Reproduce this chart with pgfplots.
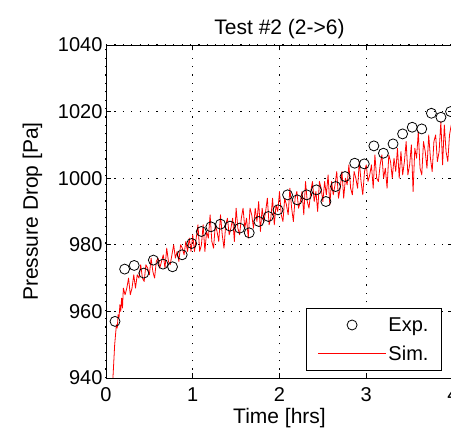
\documentclass[border=0pt]{standalone}
\usepackage{pgfplots}
\pgfplotsset{compat=1.18}
\usepackage{fontspec}
\setmainfont{Liberation Sans}
\begin{document}
\begin{tikzpicture}
\begin{axis}[
  scale only axis,
  width=347bp, height=333bp,
  xmin=0, xmax=4, ymin=940, ymax=1040,
  xtick={0,1,2,3,4}, ytick={940,960,980,1000,1020,1040},
  tick align=inside,
  major tick length=5bp,
  tick style={black, line width=0.6pt},
  axis line style={line width=0.8pt},
  grid=major,
  major grid style={black, line width=1bp, dash pattern=on 1.2bp off 7.2bp},
  /pgf/number format/assume math mode=true,
  /pgf/number format/1000 sep={},
  ticklabel style={font=\fontsize{20bp}{22bp}\selectfont},
  xticklabel style={yshift=-6bp},
  xlabel style={font=\fontsize{21bp}{24bp}\selectfont, yshift=0bp},
  ylabel style={font=\fontsize{21bp}{24bp}\selectfont, yshift=9bp},
  title style={font=\fontsize{21bp}{24bp}\selectfont, yshift=-3bp},
  title={Test \#2 (2->6)},
  xlabel={Time [hrs]},
  ylabel={Pressure Drop [Pa]},
  legend style={at={(0.968,0.021)}, anchor=south east, draw=black, line width=0.8pt,
    font=\fontsize{20bp}{22bp}\selectfont, row sep=9bp, inner xsep=11bp, inner ysep=7bp,
    nodes={inner sep=2bp}, /tikz/every even column/.append style={column sep=5bp}},
  legend cell align=left,
]
\addplot[only marks, mark=o, mark size=5bp, mark options={black, line width=0.8pt},
  legend image code/.code={\draw[black, line width=0.8pt] (34bp,0bp) circle (5bp);\path[draw=none] (0bp,0bp) -- (68bp,0bp);}]
coordinates {
(0.104,957) (0.215,972.7) (0.325,973.8) (0.436,971.5) (0.546,975.4) (0.657,974.2)
(0.767,973.4) (0.878,977) (0.988,980.4) (1.099,984) (1.209,985.4) (1.320,986.2)
(1.430,985.6) (1.541,985) (1.651,983.6) (1.762,987) (1.872,988.5) (1.983,990.5)
(2.093,995) (2.204,993.5) (2.314,995) (2.425,996.5) (2.535,993) (2.646,997.5)
(2.756,1000.5) (2.867,1004.5) (2.977,1004.3) (3.088,1009.7) (3.198,1007.5) (3.309,1010.3)
(3.419,1013.3) (3.530,1015.3) (3.640,1014.8) (3.751,1019.5) (3.861,1018.3) (3.972,1020)
};
\addlegendentry{Exp.}
\addplot[red, line width=0.8pt, mark=none, line join=round,
  legend image code/.code={\draw[red, line width=0.8pt] (0bp,0bp) -- (68bp,0bp);}]
coordinates {
(0.08,940) (0.09,945) (0.10,950) (0.11,953) (0.12,956) (0.13,955) (0.14,959) (0.15,958)
(0.16,962) (0.17,960) (0.18,964) (0.19,961)
(0.20,967) (0.22,965) (0.24,967) (0.26,970) (0.28,965) (0.30,967) (0.32,971) (0.34,967)
(0.36,971) (0.38,970) (0.40,974) (0.42,970) (0.44,969) (0.46,974) (0.48,973) (0.50,971)
(0.52,976) (0.54,972) (0.56,970) (0.58,975) (0.60,976) (0.62,973) (0.64,975) (0.66,977)
(0.68,973) (0.70,979) (0.72,975) (0.74,974) (0.76,977) (0.78,980) (0.80,976) (0.82,978)
(0.84,975) (0.86,980) (0.88,979) (0.90,977) (0.92,981) (0.94,978) (0.96,982) (0.98,978)
(1.00,983) (1.02,978) (1.04,982) (1.06,986) (1.08,978) (1.10,980) (1.12,986) (1.14,978)
(1.16,984) (1.18,982) (1.20,989) (1.22,981) (1.24,979) (1.26,986) (1.28,984) (1.30,981)
(1.32,989) (1.34,983) (1.36,979) (1.38,986) (1.40,988) (1.42,983) (1.44,985) (1.46,988)
(1.48,981) (1.50,991) (1.52,985) (1.54,983) (1.56,988) (1.58,991) (1.60,985) (1.62,988)
(1.64,982) (1.66,991) (1.68,989) (1.70,985) (1.72,991) (1.74,987) (1.76,993) (1.78,984)
(1.80,991) (1.82,987) (1.84,990) (1.86,994) (1.88,986) (1.90,988) (1.92,994) (1.94,986)
(1.96,992) (1.98,990) (2.00,996) (2.02,989) (2.04,987) (2.06,994) (2.08,992) (2.10,989)
(2.12,997) (2.14,991) (2.16,987) (2.18,994) (2.20,996) (2.22,991) (2.24,993) (2.26,996)
(2.28,989) (2.30,999) (2.32,993) (2.34,991) (2.36,996) (2.38,999) (2.40,993) (2.42,996)
(2.44,990) (2.46,999) (2.48,997) (2.50,993) (2.52,999) (2.54,995) (2.56,1001) (2.58,992)
(2.60,999) (2.62,995) (2.64,998) (2.66,1002) (2.68,994) (2.70,997) (2.72,1002) (2.74,994)
(2.76,1000) (2.78,998) (2.80,1004) (2.82,997) (2.84,995) (2.86,1002) (2.88,1000) (2.90,997)
(2.92,1005) (2.94,999) (2.96,995) (2.98,1002) (3.00,1004) (3.02,999) (3.04,1001) (3.06,1004)
(3.08,997) (3.10,1007) (3.12,1000) (3.14,999) (3.16,1004) (3.18,1007) (3.20,1000) (3.22,1003)
(3.24,997) (3.26,1007) (3.28,1005) (3.30,1000) (3.32,1006) (3.34,1002) (3.36,1009) (3.38,1000)
(3.40,1008) (3.42,1001) (3.44,1005) (3.46,1011) (3.48,1001) (3.50,1004) (3.52,1010) (3.54,996)
(3.56,1009) (3.58,1006) (3.60,1014) (3.62,1003) (3.64,1001) (3.66,1011) (3.68,1008) (3.70,1003)
(3.72,1013) (3.74,1006) (3.76,1002) (3.78,1011) (3.80,1013) (3.82,1005) (3.84,1008) (3.86,1017)
(3.88,1004) (3.90,1016) (3.92,1008) (3.94,1005) (3.96,1013) (3.98,1016) (4.00,1007)
};
\addlegendentry{Sim.}
\end{axis}
\pgfresetboundingbox
\path[use as bounding box] ([xshift=-106bp,yshift=-64bp]current axis.south west) rectangle ([xshift=-2bp,yshift=45bp]current axis.north east);
\end{tikzpicture}
\end{document}
